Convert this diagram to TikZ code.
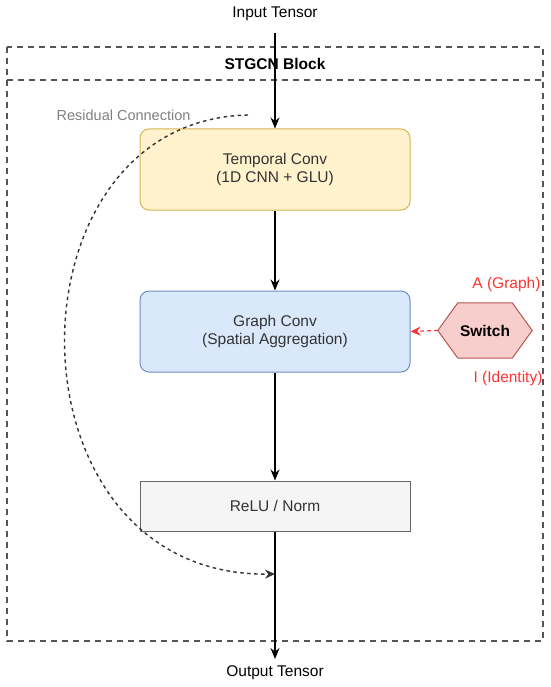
\documentclass[tikz,border=0pt]{standalone}
\usepackage{fontspec}
\setmainfont{Liberation Sans}
\usetikzlibrary{arrows.meta,backgrounds}
\definecolor{tyfill}{HTML}{FFF2CC}
\definecolor{tyline}{HTML}{D6B656}
\definecolor{gbfill}{HTML}{DAE8FC}
\definecolor{gbline}{HTML}{6C8EBF}
\definecolor{rnfill}{HTML}{F5F5F5}
\definecolor{rnline}{HTML}{666666}
\definecolor{swfill}{HTML}{F8CECC}
\definecolor{swline}{HTML}{B85450}
\definecolor{redtxt}{HTML}{FF3333}
\definecolor{contline}{HTML}{555555}
\definecolor{darktxt}{HTML}{333333}
\definecolor{resgray}{HTML}{808080}
\tikzset{
  mainfont/.style={font=\fontsize{15.5}{18.5}\selectfont},
  blockbox/.style={draw, line width=1pt, rounded corners=9pt, minimum width=270pt, minimum height=81pt, align=center, mainfont, text=darktxt},
  flowarrow/.style={-{Stealth[length=11pt,width=9pt]}, line width=1.4pt, black},
  container/.style={draw=contline, line width=1.6pt, dash pattern=on 6pt off 5pt},
}
\begin{document}
\begin{tikzpicture}[x=1pt,y=-1pt]
\useasboundingbox (0,0) rectangle (550,687);
% container
\draw[container] (7,47) rectangle (543,641);
\draw[container] (7,80) -- (543,80);
\node[font=\bfseries\fontsize{15.5}{18.5}\selectfont] (title) at (275,64) {STGCN Block};
% texts
\node[mainfont] (input) at (275,14) {Input Tensor};
\node[mainfont] (output) at (275,673) {Output Tensor};
% boxes
\node[blockbox, fill=tyfill, draw=tyline] (temporal) at (275,169.5) {Temporal Conv\\(1D CNN + GLU)};
\node[blockbox, fill=gbfill, draw=gbline] (graph) at (275,331.5) {Graph Conv\\(Spatial Aggregation)};
\node[blockbox, fill=rnfill, draw=rnline, rounded corners=0pt, minimum height=50pt] (relu) at (275,506) {ReLU / Norm};
% switch
\node[minimum width=94pt, minimum height=55pt, inner sep=0pt, font=\bfseries\fontsize{15.5}{18.5}\selectfont] (switch) at (485,330.5) {Switch};
\begin{scope}[on background layer]
\draw[fill=swfill, draw=swline, line width=1pt] (switch.west) -- ([xshift=20pt]switch.north west) -- ([xshift=-20pt]switch.north east) -- (switch.east) -- ([xshift=-20pt]switch.south east) -- ([xshift=20pt]switch.south west) -- cycle;
\end{scope}
\node[mainfont, text=redtxt, anchor=east] (alab) at (544,284) {A (Graph)};
\node[mainfont, text=redtxt, anchor=east] (ilab) at (546,378) {I (Identity)};
% arrows
\coordinate (inend) at (275,33);
\coordinate (outend) at (275,659);
\coordinate (merge) at (275,574);
\draw[flowarrow] (inend) -- (temporal.north);
\draw[flowarrow] (temporal.south) -- (graph.north);
\draw[flowarrow] (graph.south) -- (relu.north);
\draw[flowarrow] (relu.south) -- (outend);
\draw[-{Stealth[length=10pt,width=9pt]}, redtxt, line width=1.2pt, dash pattern=on 4pt off 3pt] (switch.west) -- (graph.east);
% residual
\node[font=\fontsize{14.5}{17}\selectfont, text=resgray, anchor=east] (reslab) at (194,115) {Residual Connection};
\coordinate (resstart) at (248,115);
\draw[-{Stealth[length=10pt,width=9pt]}, darktxt, line width=1.4pt, dash pattern=on 3.5pt off 3.5pt] (resstart) .. controls (0,120) and (0,578) .. (merge);
\end{tikzpicture}
\end{document}
